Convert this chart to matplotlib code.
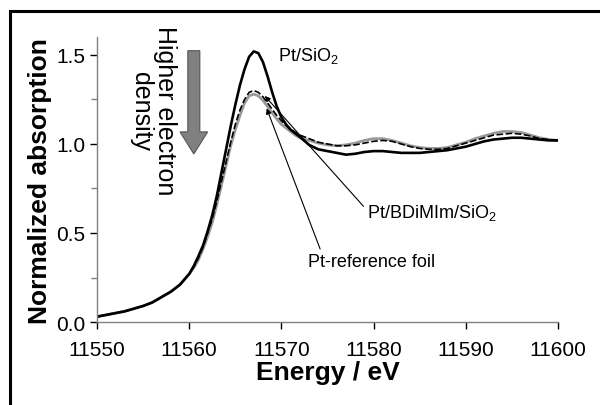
import matplotlib
matplotlib.use("Agg")
import matplotlib.pyplot as plt
from matplotlib.patches import FancyArrow, Rectangle

plt.rcParams["font.family"] = ["Liberation Sans", "DejaVu Sans"]
plt.rcParams["mathtext.fontset"] = "custom"
plt.rcParams["mathtext.rm"] = "Liberation Sans"
plt.rcParams["mathtext.default"] = "regular"

# energies (eV): 1 eV steps, 0.5 eV steps across the white line
energy = [11550, 11551, 11552, 11553, 11554, 11555, 11556, 11557, 11558, 11559, 11560,
          11560.5, 11561, 11561.5, 11562, 11562.5, 11563, 11563.5, 11564, 11564.5,
          11565, 11565.5, 11566, 11566.5, 11567, 11567.5, 11568, 11568.5, 11569,
          11569.5, 11570, 11570.5, 11571, 11571.5, 11572,
          11573, 11574, 11575, 11576, 11577, 11578, 11579, 11580, 11581, 11582,
          11583, 11584, 11585, 11586, 11587, 11588, 11589, 11590, 11591, 11592,
          11593, 11594, 11595, 11596, 11597, 11598, 11599, 11600]

# Pt/SiO2 (thick black)
pt_sio2 = [0.03, 0.04, 0.05, 0.06, 0.075, 0.09, 0.11, 0.14, 0.17, 0.21, 0.27,
           0.315, 0.37, 0.43, 0.51, 0.60, 0.71, 0.84, 0.97, 1.10,
           1.22, 1.33, 1.42, 1.49, 1.52, 1.51, 1.46, 1.38, 1.29,
           1.21, 1.15, 1.11, 1.08, 1.06, 1.04,
           0.995, 0.97, 0.96, 0.95, 0.94, 0.945, 0.955, 0.96, 0.96, 0.955,
           0.95, 0.95, 0.95, 0.955, 0.96, 0.965, 0.975, 0.985, 1.0, 1.015,
           1.025, 1.03, 1.035, 1.035, 1.03, 1.025, 1.02, 1.02]

# Pt/BDiMIm/SiO2 (dashed black)
pt_bdimim = [0.03, 0.04, 0.05, 0.06, 0.075, 0.09, 0.11, 0.14, 0.17, 0.21, 0.27,
             0.31, 0.36, 0.42, 0.50, 0.58, 0.68, 0.79, 0.90, 1.01,
             1.11, 1.19, 1.25, 1.29, 1.30, 1.29, 1.265, 1.23, 1.195,
             1.16, 1.13, 1.105, 1.085, 1.065, 1.05,
             1.03, 1.01, 1.00, 0.99, 0.99, 0.995, 1.005, 1.015, 1.02, 1.015,
             1.0, 0.985, 0.975, 0.97, 0.97, 0.975, 0.99, 1.005, 1.02, 1.035,
             1.05, 1.055, 1.06, 1.055, 1.045, 1.03, 1.025, 1.02]

# Pt-reference foil (grey)
pt_foil = [0.03, 0.04, 0.05, 0.06, 0.075, 0.09, 0.11, 0.14, 0.17, 0.21, 0.27,
           0.305, 0.35, 0.41, 0.48, 0.56, 0.66, 0.77, 0.88, 0.99,
           1.08, 1.16, 1.23, 1.27, 1.28, 1.27, 1.245, 1.21, 1.175,
           1.14, 1.11, 1.09, 1.07, 1.05, 1.035,
           1.02, 1.005, 0.995, 0.99, 0.995, 1.005, 1.02, 1.03, 1.03, 1.02,
           1.005, 0.99, 0.98, 0.975, 0.975, 0.98, 0.995, 1.01, 1.03, 1.045,
           1.06, 1.07, 1.07, 1.065, 1.05, 1.035, 1.025, 1.02]

fig = plt.figure(figsize=(6, 4.06), dpi=100)
ax = fig.add_axes([0.1617, 0.2044, 0.7683, 0.7016])

ax.plot(energy, pt_foil, color="#9a9a9a", lw=2.0)
ax.plot(energy, pt_bdimim, color="black", lw=1.2, ls=(0, (4, 1.5)))
ax.plot(energy, pt_sio2, color="black", lw=1.9)

ax.set_xlim(11550, 11600)
ax.set_ylim(0, 1.6)
ax.set_xticks([11550, 11560, 11570, 11580, 11590, 11600])
ax.set_yticks([0.0, 0.5, 1.0, 1.5])
ax.set_yticklabels(["0.0", "0.5", "1.0", "1.5"])
ax.set_yticks([0.25, 0.75, 1.25], minor=True)

for s in ["top", "right"]:
    ax.spines[s].set_visible(False)
for s in ["left", "bottom"]:
    ax.spines[s].set_color("#808080")
    ax.spines[s].set_linewidth(1.0)
ax.tick_params(axis="both", which="major", direction="out", length=5, width=1,
               labelsize=15, color="black")
ax.tick_params(axis="y", which="minor", direction="out", length=4, width=1, color="#808080")
ax.tick_params(axis="x", pad=8)

ax.set_xlabel("Energy / eV", fontsize=19, fontweight="bold", labelpad=1)
ax.set_ylabel("Normalized absorption", fontsize=19, fontweight="bold", labelpad=3)

# labels and pointers
ax.text(11569.6, 1.50, r"Pt/SiO$_2$", fontsize=13, ha="left", va="center")
ax.text(11579.3, 0.62, r"Pt/BDiMIm/SiO$_2$", fontsize=13, ha="left", va="center")
ax.text(11572.9, 0.34, "Pt-reference foil", fontsize=13, ha="left", va="center")
ax.annotate("", xy=(11568.2, 1.27), xytext=(11578.9, 0.65),
            arrowprops=dict(arrowstyle="-|>", color="black", lw=0.8,
                            mutation_scale=8, shrinkA=0, shrinkB=0))
ax.annotate("", xy=(11568.4, 1.20), xytext=(11574.2, 0.41),
            arrowprops=dict(arrowstyle="-|>", color="black", lw=0.8,
                            mutation_scale=8, shrinkA=0, shrinkB=0))

# big grey arrow
ax.add_patch(FancyArrow(11560.5, 1.524, 0, -0.58, width=1.3, head_width=3.0,
                        head_length=0.124, length_includes_head=True,
                        facecolor="#808080", edgecolor="#555555", lw=0.8))
ax.text(11556.1, 1.19, "Higher electron\ndensity", fontsize=18, rotation=270,
        ha="center", va="center", multialignment="center", linespacing=1.0)

# outer frame
fig.patches.append(Rectangle((10 / 600, -0.1), 2, 1 - 12 / 406 + 0.1,
                             transform=fig.transFigure, fill=False,
                             edgecolor="black", lw=2.2, clip_on=False))

fig.savefig("out.png", dpi=100)
